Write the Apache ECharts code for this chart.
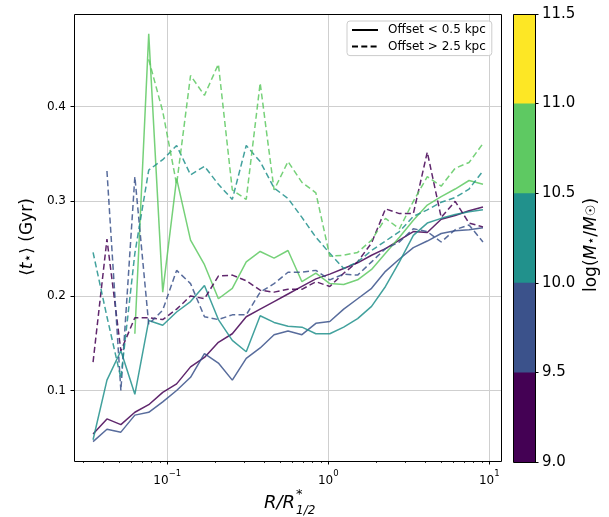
<!DOCTYPE html>
<html>
<head>
<meta charset="utf-8">
<script src="https://cdn.jsdelivr.net/npm/echarts@6/dist/echarts.min.js"></script>
<style>
html, body { margin: 0; padding: 0; background: #fff; }
#chart { width: 609px; height: 517px; }
</style>
</head>
<body>
<div id="chart"></div>
<script>
// radial bin centres, R / R*_1/2
const radius = [0.0346, 0.0422, 0.0515, 0.0629, 0.0767, 0.0937, 0.1143, 0.1395, 0.1702, 0.2077,
  0.2535, 0.3094, 0.3776, 0.4607, 0.5623, 0.6862, 0.8375, 1.022, 1.247, 1.522,
  1.858, 2.267, 2.767, 3.377, 4.121, 5.029, 6.138, 7.490, 9.141]

// <t*> (Gyr), offset < 0.5 kpc, one array per mass bin
const solidM9 = [0.054, 0.070, 0.064, 0.077, 0.085, 0.098, 0.107, 0.125, 0.135, 0.151, 0.160, 0.178, 0.186, 0.194, 0.202, 0.210, 0.218, 0.223, 0.229, 0.235, 0.243, 0.250, 0.259, 0.268, 0.267, 0.281, 0.285, 0.290, 0.294]
const solidM95 = [0.046, 0.059, 0.056, 0.074, 0.077, 0.088, 0.100, 0.114, 0.139, 0.129, 0.111, 0.134, 0.145, 0.159, 0.163, 0.159, 0.171, 0.173, 0.186, 0.197, 0.208, 0.226, 0.239, 0.251, 0.258, 0.266, 0.269, 0.270, 0.272]
const solidM10 = [0.048, 0.111, 0.142, 0.096, 0.174, 0.169, 0.183, 0.194, 0.211, 0.175, 0.153, 0.141, 0.179, 0.172, 0.168, 0.167, 0.160, 0.160, 0.167, 0.176, 0.189, 0.210, 0.236, 0.264, 0.277, 0.282, 0.286, 0.289, 0.291]
const solidM105 = [null, null, null, 0.160, 0.477, 0.204, 0.324, 0.259, 0.233, 0.197, 0.208, 0.236, 0.247, 0.240, 0.248, 0.215, 0.224, 0.213, 0.212, 0.217, 0.228, 0.245, 0.262, 0.280, 0.296, 0.305, 0.313, 0.322, 0.318]

// <t*> (Gyr), offset > 2.5 kpc
const dashedM9 = [0.130, 0.260, 0.142, 0.177, 0.177, 0.175, 0.186, 0.200, 0.197, 0.221, 0.222, 0.216, 0.206, 0.204, 0.207, 0.207, 0.215, 0.210, 0.224, 0.236, 0.256, 0.292, 0.287, 0.287, 0.352, 0.283, 0.300, 0.277, 0.273]
const dashedM95 = [null, 0.332, 0.100, 0.326, 0.170, 0.185, 0.227, 0.213, 0.178, 0.175, 0.180, 0.180, 0.204, 0.213, 0.225, 0.225, 0.227, 0.217, 0.223, 0.222, 0.236, 0.250, 0.257, 0.271, 0.268, 0.257, 0.270, 0.275, 0.257]
const dashedM10 = [0.246, 0.178, 0.113, 0.245, 0.333, 0.344, 0.359, 0.328, 0.337, 0.318, 0.302, 0.359, 0.342, 0.314, 0.303, 0.283, 0.262, 0.245, 0.229, 0.236, 0.248, 0.258, 0.268, 0.284, 0.291, 0.299, 0.304, 0.313, 0.332]
const dashedM105 = [null, null, null, null, 0.450, 0.395, 0.318, 0.433, 0.412, 0.445, 0.312, 0.302, 0.425, 0.312, 0.342, 0.320, 0.309, 0.242, 0.243, 0.246, 0.259, 0.282, 0.271, 0.300, 0.326, 0.316, 0.335, 0.341, 0.361]

// colourbar: log(M*/Msun) bin edges and viridis colours
const massEdges = [9.0, 9.5, 10.0, 10.5, 11.0, 11.5]
const binColors = ['#440154', '#3b528b', '#21918c', '#5ec962', '#fde725']

const xTicks = [0.1, 1, 10]
const xMinorTicks = [0.03, 0.04, 0.05, 0.06, 0.07, 0.08, 0.09, 0.2, 0.3, 0.4, 0.5, 0.6, 0.7, 0.8, 0.9, 2, 3, 4, 5, 6, 7, 8, 9]
const yTicks = [0.1, 0.2, 0.3, 0.4]

const legendSolid = 'Offset < 0.5 kpc'
const legendDashed = 'Offset > 2.5 kpc'

const FONT = 'DejaVu Sans'
const dash = [6, 3.3]

const profiles = [
  { data: solidM9, color: binColors[0], dashed: false },
  { data: solidM95, color: binColors[1], dashed: false },
  { data: solidM10, color: binColors[2], dashed: false },
  { data: solidM105, color: binColors[3], dashed: false },
  { data: dashedM9, color: binColors[0], dashed: true },
  { data: dashedM95, color: binColors[1], dashed: true },
  { data: dashedM10, color: binColors[2], dashed: true },
  { data: dashedM105, color: binColors[3], dashed: true },
]

function toPoints(values) {
  return radius.map((r, i) => [r, values[i]]).filter((p) => p[1] != null)
}

function powerLabel(v) {
  const e = Math.round(Math.log10(v))
  return `{b|10}{e|${e < 0 ? '\u2212' + -e : e}}`
}

const lineSeries = profiles.map((p) => ({
  type: 'line',
  xAxisIndex: 0,
  yAxisIndex: 0,
  data: toPoints(p.data),
  symbol: 'none',
  silent: true,
  lineStyle: { color: p.color, width: 1.5, opacity: 0.85, type: p.dashed ? dash : 'solid' },
  z: 3,
}))

const legendSeries = [
  { name: legendSolid, type: 'line', data: [], symbol: 'none', color: '#000', lineStyle: { color: '#000', width: 1.5, type: 'solid' } },
  { name: legendDashed, type: 'line', data: [], symbol: 'none', color: '#000', lineStyle: { color: '#000', width: 1.5, type: dash } },
]

// colourbar bands: tallest first, later bars paint over the lower part
const colorbarSeries = massEdges.slice(1).map((top, i) => ({
  type: 'bar',
  xAxisIndex: 2,
  yAxisIndex: 1,
  data: [top],
  barWidth: '100%',
  barGap: '-100%',
  silent: true,
  itemStyle: { color: binColors[i] },
})).reverse()

const chart = echarts.init(document.getElementById('chart'))
chart.setOption({
  animation: false,
  textStyle: { fontFamily: FONT },
  grid: [
    { left: 74, top: 14, width: 427, height: 447, show: false },
    { left: 513, top: 14, width: 22, height: 448, show: false },
  ],
  xAxis: [
    {
      type: 'log', gridIndex: 0, min: 0.02634, max: 11.83,
      axisLine: { show: false },
      axisTick: { customValues: xTicks, length: 3.5, lineStyle: { color: '#000', width: 1 } },
      axisLabel: {
        customValues: xTicks, margin: 8, formatter: powerLabel,
        rich: {
          b: { fontSize: 12, color: '#000', lineHeight: 18, verticalAlign: 'bottom', fontFamily: FONT },
          e: { fontSize: 8.5, color: '#000', lineHeight: 6, verticalAlign: 'top', fontFamily: FONT },
        },
      },
      splitLine: { show: true, lineStyle: { color: '#cfcfcf', width: 1 } },
    },
    {
      type: 'log', gridIndex: 0, position: 'bottom', min: 0.02634, max: 11.83,
      axisLine: { show: false },
      axisTick: { customValues: xMinorTicks, length: 2, lineStyle: { color: '#000', width: 0.8 } },
      axisLabel: { show: false },
      splitLine: { show: false },
    },
    { type: 'category', gridIndex: 1, data: ['cb'], show: false },
  ],
  yAxis: [
    {
      type: 'value', gridIndex: 0, min: 0.0255, max: 0.498,
      axisLine: { show: false },
      axisTick: { customValues: yTicks, length: 3.5, lineStyle: { color: '#000', width: 1 } },
      axisLabel: { customValues: yTicks, formatter: (v) => v.toFixed(1), fontSize: 12, color: '#000', margin: 8 },
      splitLine: { show: true, lineStyle: { color: '#cfcfcf', width: 1 } },
    },
    {
      type: 'value', gridIndex: 1, position: 'right', min: 9, max: 11.5, interval: 0.5,
      axisLine: { show: false },
      axisTick: { show: true, length: 3.5, lineStyle: { color: '#000', width: 1 } },
      axisLabel: { formatter: (v) => v.toFixed(1), fontSize: 15, color: '#000', margin: 7 },
      splitLine: { show: false },
    },
  ],
  legend: {
    data: [legendSolid, legendDashed],
    orient: 'vertical',
    left: 347,
    top: 21,
    itemWidth: 26,
    itemHeight: 14,
    itemGap: 4.6,
    padding: [3, 6, 3, 4],
    itemStyle: { opacity: 0 },
    backgroundColor: 'rgba(255,255,255,0.85)',
    borderColor: '#cccccc',
    borderWidth: 1,
    borderRadius: 3,
    textStyle: { fontSize: 12, color: '#000', padding: [0, 0, 0, 5], fontFamily: FONT },
  },
  graphic: [
    // plot frame
    { type: 'rect', z: 100, silent: true, shape: { x: 74.5, y: 14.5, width: 427, height: 447 }, style: { fill: null, stroke: '#000', lineWidth: 1 } },
    // colourbar frame
    { type: 'rect', z: 100, silent: true, shape: { x: 513.5, y: 14.5, width: 22, height: 448 }, style: { fill: null, stroke: '#000', lineWidth: 1 } },
    {
      type: 'text', x: 28, y: 237, rotation: Math.PI / 2, silent: true,
      style: {
        text: '{n|\u27e8}{i|t}{s|\u22c6}{n|\u27e9 (Gyr)}',
        align: 'center', verticalAlign: 'middle',
        rich: {
          n: { fontSize: 17, fontFamily: FONT, fill: '#000' },
          i: { fontSize: 17, fontFamily: FONT, fontStyle: 'italic', fill: '#000' },
          s: { fontSize: 14, fontFamily: FONT, fill: '#000' },
        },
      },
    },
    {
      type: 'text', x: 592, y: 245, rotation: Math.PI / 2, silent: true,
      style: {
        text: '{n|log(}{i|M}{s|\u22c6}{n|/}{i|M}{s|\u2609}{n|)}',
        align: 'center', verticalAlign: 'middle',
        rich: {
          n: { fontSize: 17, fontFamily: FONT, fill: '#000' },
          i: { fontSize: 17, fontFamily: FONT, fontStyle: 'italic', fill: '#000' },
          s: { fontSize: 13, fontFamily: FONT, fill: '#000' },
        },
      },
    },
    {
      type: 'group', x: 264, y: 503, silent: true,
      children: [
        { type: 'text', x: 0, y: 0, style: { text: 'R/R', font: `italic 18px "${FONT}"`, fill: '#000', verticalAlign: 'middle' } },
        { type: 'text', x: 32, y: -8, style: { text: '*', font: `13px "${FONT}"`, fill: '#000', verticalAlign: 'middle' } },
        { type: 'text', x: 32, y: 8, style: { text: '1/2', font: `italic 12px "${FONT}"`, fill: '#000', verticalAlign: 'middle' } },
      ],
    },
  ],
  series: [...lineSeries, ...legendSeries, ...colorbarSeries],
})
</script>
</body>
</html>
